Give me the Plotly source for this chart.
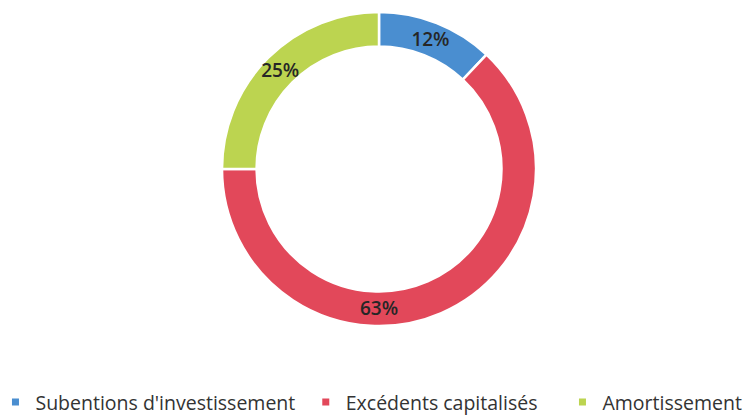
import plotly.graph_objects as go

# Répartition du financement (en %)
categories = ["Subentions d'investissement", "Excédents capitalisés", "Amortissement"]
values = [12, 63, 25]
colors = ["#4a8ed0", "#e2485a", "#bcd450"]

W, H = 755, 419
cx, cy, r = 379, 169, 157  # ring centre and outer radius in pixels

fig = go.Figure()
fig.add_trace(go.Pie(
    labels=categories,
    values=values,
    hole=0.78,
    sort=False,
    direction="clockwise",
    rotation=0,
    marker=dict(colors=colors, line=dict(color="white", width=2.5)),
    textinfo="percent",
    textposition="inside",
    insidetextorientation="horizontal",
    textfont=dict(family="Open Sans", size=19, color="#262626", weight=600),
    showlegend=False,
    domain=dict(x=[(cx - r) / W, (cx + r) / W],
                y=[(H - cy - r) / H, (H - cy + r) / H]),
))

# One legend per entry so each swatch sits at its own horizontal position
legend_x = [-0.006, 0.405, 0.745]
legend_ids = ["legend", "legend2", "legend3"]
for name, col, lid in zip(categories, colors, legend_ids):
    fig.add_trace(go.Scatter(
        x=[None], y=[None], mode="markers", name=name, legend=lid,
        marker=dict(symbol="square", size=7, color=col),
    ))

legend_style = dict(orientation="h", xanchor="left", y=0.04, yanchor="middle",
                    font=dict(family="Open Sans", size=19.5, color="#333333"),
                    bgcolor="rgba(0,0,0,0)")

fig.update_layout(
    width=W, height=H,
    margin=dict(l=0, r=0, t=0, b=0, autoexpand=False),
    paper_bgcolor="white", plot_bgcolor="white",
    xaxis=dict(visible=False), yaxis=dict(visible=False),
    uniformtext=dict(minsize=19, mode="show"),
    legend=dict(x=legend_x[0], **legend_style),
    legend2=dict(x=legend_x[1], **legend_style),
    legend3=dict(x=legend_x[2], **legend_style),
)

fig.write_html("out.html")
